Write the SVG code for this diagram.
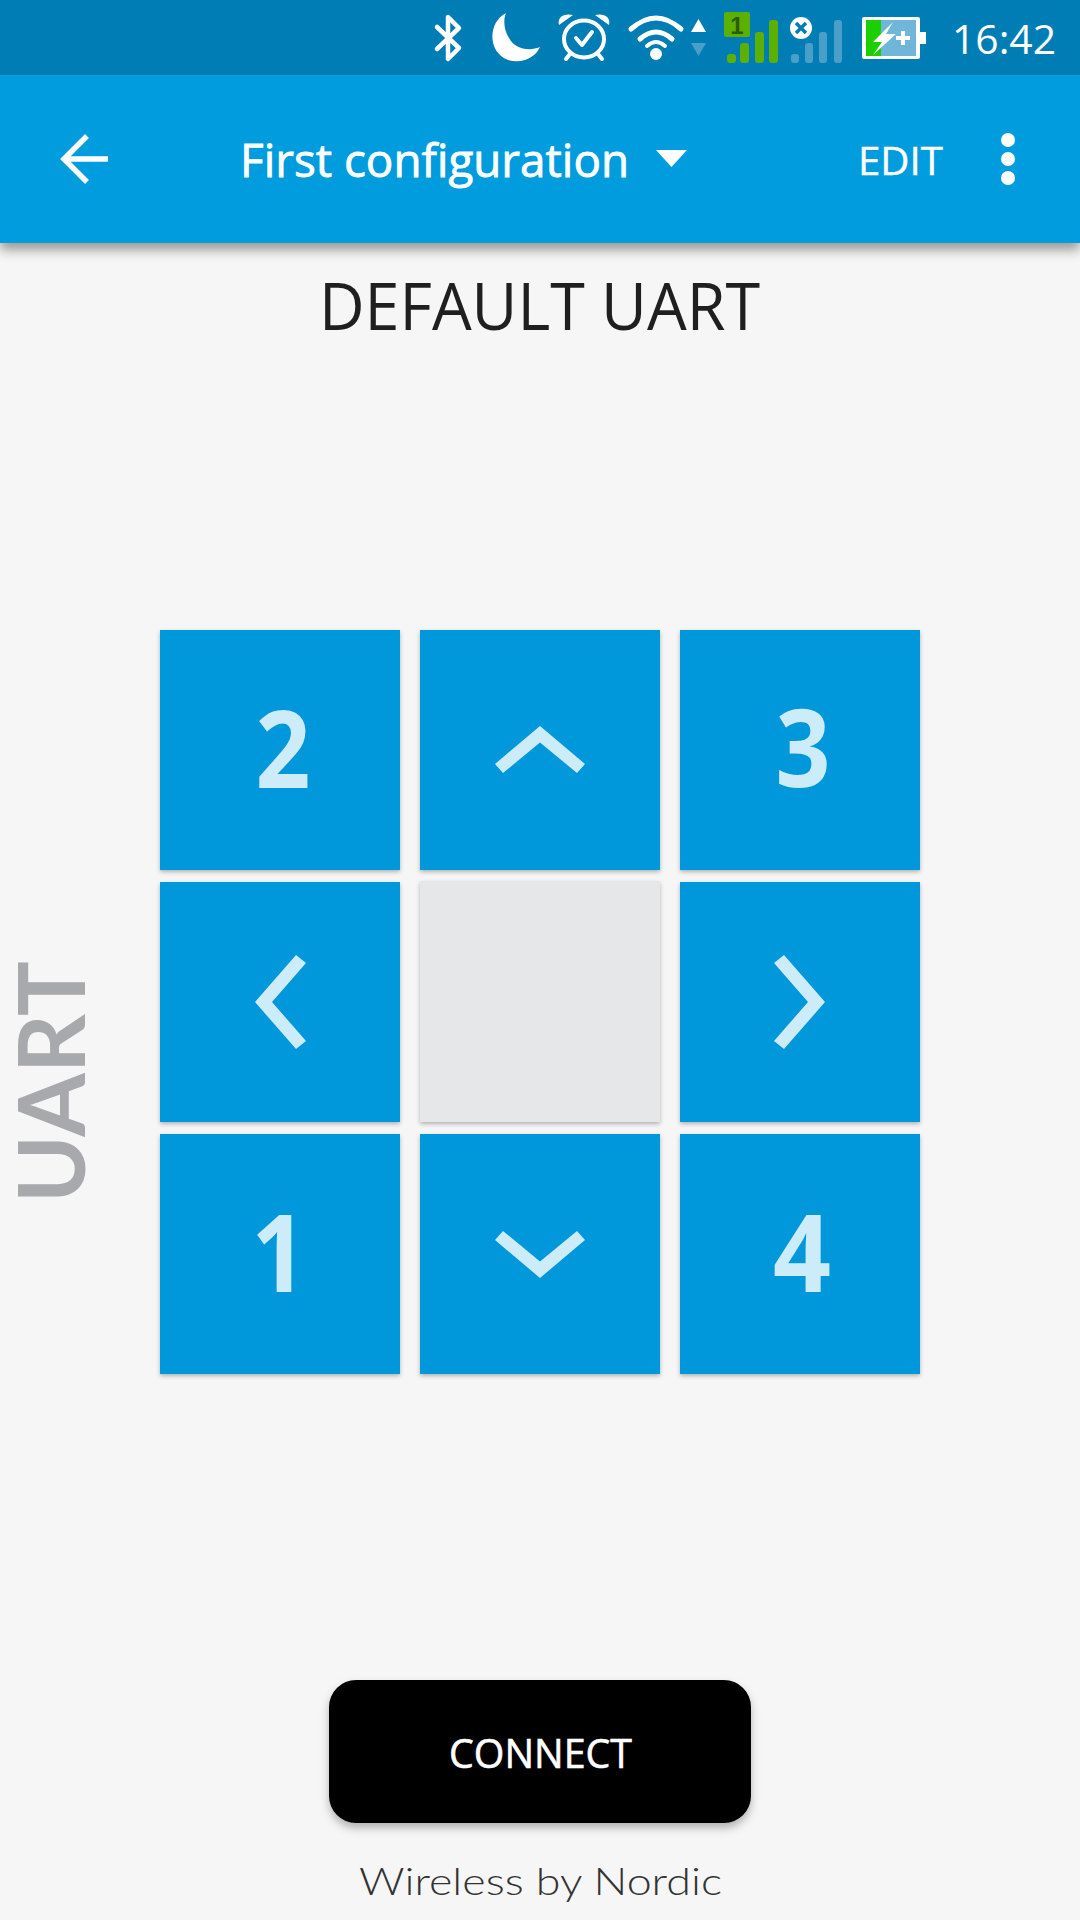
<svg xmlns="http://www.w3.org/2000/svg" width="1080" height="1920" viewBox="0 0 1080 1920">
<style>
.tile{fill:#0098da;filter:url(#ts)}
.dig{font-family:"Open Sans","Liberation Sans",sans-serif;font-weight:700;font-size:108px;fill:#ccecfa;text-anchor:middle}
.chev{fill:#ccecfa}
.bar1{fill:#5cb000}
.bar2{fill:#4a9fc8}
.ws{fill:none;stroke:#fff;stroke-linecap:round;stroke-linejoin:round}
</style>
<defs>
<filter id="ts" x="-10%" y="-10%" width="120%" height="120%"><feDropShadow dx="0" dy="2" stdDeviation="2" flood-color="#000" flood-opacity=".28"/></filter>
<filter id="hs" x="-5%" y="-10%" width="110%" height="140%"><feDropShadow dx="0" dy="7" stdDeviation="6" flood-color="#000" flood-opacity=".38"/></filter>
<filter id="bs" x="-10%" y="-10%" width="120%" height="130%"><feDropShadow dx="0" dy="5" stdDeviation="4" flood-color="#000" flood-opacity=".28"/></filter>
</defs>
<rect width="1080" height="1920" fill="#f6f6f6"/>
<g id="appbar">
<rect x="0" y="75" width="1080" height="168" fill="#009cde" filter="url(#hs)"/>
<path d="M108,159H66M87,136L64,159L87,182" fill="none" stroke="#fff" stroke-width="5.500" stroke-linejoin="miter" stroke-linecap="butt"/>
<text x="240" y="177" font-family="'Open Sans','Liberation Sans',sans-serif" font-size="46" fill="#fff" stroke="#fff" stroke-width=".8" textLength="389" lengthAdjust="spacingAndGlyphs">First configuration</text>
<polygon points="656,150 687,150 671.500,167" fill="#fff"/>
<text x="858" y="175" font-family="'Open Sans','Liberation Sans',sans-serif" font-size="39" fill="#fff" stroke="#fff" stroke-width=".4" textLength="85" lengthAdjust="spacingAndGlyphs">EDIT</text>
<circle cx="1008" cy="140" r="7" fill="#fff"/><circle cx="1008" cy="159" r="7" fill="#fff"/><circle cx="1008" cy="178" r="7" fill="#fff"/>
</g>
<g id="statusbar">
<rect x="0" y="0" width="1080" height="75" fill="#007db5"/>
<path class="ws" stroke-width="4.500" d="M437,27L459,48L448,59V17L459,28L437,49"/>
<path fill="#fff" d="M506,13C488,22 487,52 508,60C522,64 535,58 540,47C528,52 514,48 509,38C504,30 503,20 506,13Z"/>
<ellipse class="ws" cx="584" cy="39" rx="20" ry="18.500" stroke-width="4"/>
<path class="ws" stroke-width="4" d="M576,38L582,45L592,32M570,54L566,59M598,54L602,59"/>
<path fill="#fff" d="M559,25C557,17 564,13 573,15ZM609,25C611,17 604,13 595,15Z"/>
<path class="ws" stroke-width="5" d="M631,29Q656,7 681,29M640,39Q656,25 672,39"/>
<circle cx="656" cy="54" r="6" fill="#fff"/>
<path class="ws" stroke-width="4" d="M647,46Q656,38 665,46"/>
<polygon points="698.500,19 706,32 691,32" fill="#fff"/>
<polygon points="691,43 706,43 698.500,56" fill="#4a9fc8"/>
<rect class="bar1" x="724" y="12" width="26" height="25" rx="2"/>
<text x="737" y="34" font-family="'Liberation Sans',sans-serif" font-size="24" font-weight="700" fill="#2d5c00" text-anchor="middle">1</text>
<rect class="bar1" x="727" y="54" width="9" height="9" rx="3"/>
<rect class="bar1" x="740" y="43" width="9" height="20" rx="3"/>
<rect class="bar1" x="755" y="32" width="9" height="31" rx="3"/>
<rect class="bar1" x="769" y="20" width="9" height="43" rx="3"/>
<rect class="bar2" x="791" y="54" width="8" height="9" rx="3"/>
<rect class="bar2" x="805" y="43" width="8" height="20" rx="3"/>
<rect class="bar2" x="819" y="32" width="8" height="31" rx="3"/>
<rect class="bar2" x="834" y="20" width="8" height="43" rx="3"/>
<circle cx="801" cy="28" r="11" fill="#fff"/>
<path d="M796,23L806,33M806,23L796,33" stroke="#007db5" stroke-width="3.500" fill="none"/>
<rect x="862" y="17" width="58" height="42" rx="2" fill="#fff"/>
<rect x="920" y="32" width="6" height="12" fill="#fff"/>
<rect x="866" y="20" width="50" height="36" fill="#6fb6d8"/>
<rect x="866" y="20" width="15" height="36" fill="#1cd000"/>
<polygon points="893,22 873,42 882,42 873,55 896,34 886,34" fill="#fff"/>
<path d="M903,31V45M896,38H910" stroke="#fff" stroke-width="4" fill="none"/>
<text x="952" y="54" font-family="'Open Sans','Liberation Sans',sans-serif" font-size="40" fill="#fff" textLength="104" lengthAdjust="spacingAndGlyphs">16:42</text>
</g>
<text id="title" x="319" y="330" font-family="'Open Sans','Liberation Sans',sans-serif" font-size="66" fill="#1f1f1f" textLength="441" lengthAdjust="spacingAndGlyphs">DEFAULT UART</text>
<text id="side" transform="translate(85,1203) rotate(-90)" font-family="Lato,'Liberation Sans',sans-serif" font-weight="700" font-size="91" fill="#a7a9ac" textLength="242" lengthAdjust="spacingAndGlyphs">UART</text>
<g id="btn-2"><rect class="tile" x="160" y="630" width="240" height="240"/><text class="dig" x="283" y="788" textLength="55" lengthAdjust="spacingAndGlyphs">2</text></g>
<g id="btn-up"><rect class="tile" x="420" y="630" width="240" height="240"/><polygon class="chev" points="540,726 585,764 577,773 540,742.500 503,773 495,764"/></g>
<g id="btn-3"><rect class="tile" x="680" y="630" width="240" height="240"/><text class="dig" x="803" y="787" textLength="55" lengthAdjust="spacingAndGlyphs">3</text></g>
<g id="btn-left"><rect class="tile" x="160" y="882" width="240" height="240"/><polygon class="chev" points="255,1002 296,955 306,963 272,1002 306,1041 296,1049"/></g>
<g id="btn-center"><rect class="tile" style="fill:#e6e7e8" x="420" y="881" width="240" height="241"/></g>
<g id="btn-right"><rect class="tile" x="680" y="882" width="240" height="240"/><polygon class="chev" points="825,1002 784,955 774,963 808,1002 774,1041 784,1049"/></g>
<g id="btn-1"><rect class="tile" x="160" y="1134" width="240" height="240"/><text class="dig" x="279" y="1292" textLength="55" lengthAdjust="spacingAndGlyphs">1</text></g>
<g id="btn-down"><rect class="tile" x="420" y="1134" width="240" height="240"/><polygon class="chev" points="540,1278 585,1240 577,1231 540,1261.500 503,1231 495,1240"/></g>
<g id="btn-4"><rect class="tile" x="680" y="1134" width="240" height="240"/><text class="dig" x="802" y="1292" textLength="58" lengthAdjust="spacingAndGlyphs">4</text></g>
<g id="connect"><rect x="329" y="1680" width="422" height="143" rx="27" fill="#000" filter="url(#bs)"/>
<text x="449" y="1768" font-family="'Open Sans','Liberation Sans',sans-serif" font-size="40" fill="#fff" stroke="#fff" stroke-width=".6" textLength="183" lengthAdjust="spacingAndGlyphs">CONNECT</text></g>
<text id="footer" x="359" y="1895" font-family="Lato,'Liberation Sans',sans-serif" font-weight="300" font-size="38" fill="#333" textLength="363" lengthAdjust="spacingAndGlyphs">Wireless by Nordic</text>
</svg>
